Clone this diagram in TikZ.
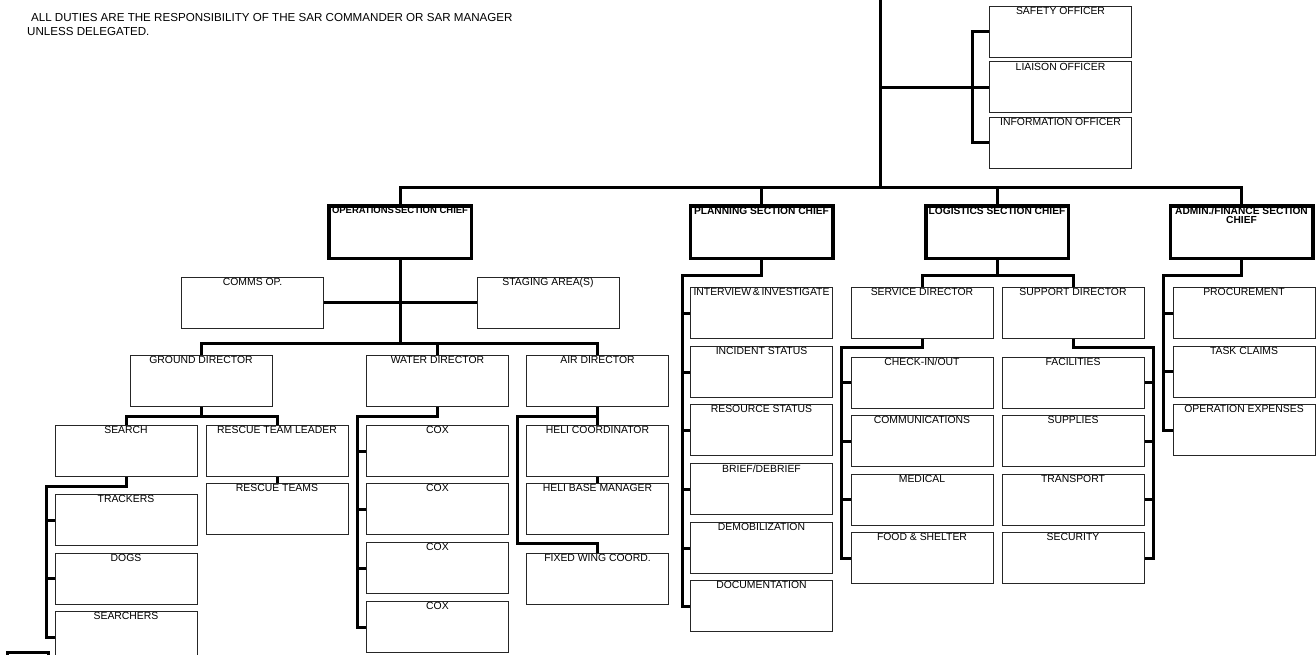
\documentclass[tikz,border=0pt]{standalone}
\usepackage{fontspec}
\setmainfont{Liberation Sans}
\usetikzlibrary{calc}

\tikzset{
  lbl/.style={anchor=north, inner sep=1.5pt, align=center,
    font=\fontsize{10.4}{9}\selectfont},
  chieflbl/.style={anchor=north, inner sep=0.5pt, align=center,
    font=\fontsize{10.2}{9}\selectfont\bfseries},
  orgbox/.style={draw=black!85, line width=1pt, minimum width=142pt,
    minimum height=51pt, inner sep=0pt, label={[lbl]north:#1}},
  chiefbox/.style={draw=black, line width=3.5pt, minimum width=142.5pt,
    minimum height=52.5pt, inner sep=0pt, label={[chieflbl, yshift=-2.5pt]north:#1}},
  link/.style={draw=black, line width=3pt, line join=miter},
}

\begin{document}
\begin{tikzpicture}[x=1pt, y=-1pt]
\useasboundingbox (0,0) rectangle (1316,655);

% note at the upper left
\node[anchor=north west, inner sep=0pt, align=left,
      font=\fontsize{11.6}{14}\selectfont] (note) at (27,13)
  {\hspace{3.9pt}ALL DUTIES ARE THE RESPONSIBILITY OF THE SAR COMMANDER OR SAR MANAGER\\
   UNLESS DELEGATED.};

% command staff
\node[orgbox={SAFETY OFFICER}]      (safety)  at (1060.5,32) {};
\node[orgbox={LIAISON OFFICER}]     (liaison) at (1060.5,87.5) {};
\node[orgbox={INFORMATION OFFICER}] (info)    at (1060.5,143) {};

% section chiefs
\node[chiefbox={\resizebox{136pt}{!}{OPERATIONS\hspace{1pt}SECTION CHIEF}}] (ops) at (400,232) {};
\node[chiefbox={PLANNING SECTION CHIEF}]  (plan)  at (761.5,232) {};
\node[chiefbox={LOGISTICS SECTION CHIEF}] (logi)  at (997,232) {};
\node[chiefbox={ADMIN./FINANCE SECTION\\CHIEF}] (admin) at (1241.5,232) {};

% operations
\node[orgbox={COMMS OP.}]        (comms)   at (252.5,302.5) {};
\node[orgbox={STAGING AREA(S)}]  (staging) at (548,302.5) {};
\node[orgbox={GROUND DIRECTOR}]  (ground)  at (201,381) {};
\node[orgbox={WATER DIRECTOR}]   (water)   at (437.5,381) {};
\node[orgbox={AIR DIRECTOR}]     (air)     at (597.5,381) {};

\node[orgbox={SEARCH}]              (search)  at (126,451) {};
\node[orgbox={RESCUE TEAM LEADER}]  (rtl)     at (277,451) {};
\node[orgbox={RESCUE TEAMS}]        (rteams)  at (277,509) {};
\node[orgbox={TRACKERS}]            (trackers) at (126,520) {};
\node[orgbox={DOGS}]                (dogs)    at (126,578.5) {};
\node[orgbox={SEARCHERS}]           (searchers) at (126,637) {};

\node[orgbox={COX}] (cox1) at (437.5,451) {};
\node[orgbox={COX}] (cox2) at (437.5,509) {};
\node[orgbox={COX}] (cox3) at (437.5,568) {};
\node[orgbox={COX}] (cox4) at (437.5,627) {};

\node[orgbox={HELI COORDINATOR}]    (heli)     at (597.5,451) {};
\node[orgbox={HELI BASE MANAGER}]   (helibase) at (597.5,509) {};
\node[orgbox={FIXED WING COORD.}]   (fixed)    at (597.5,579) {};

% planning
\node[orgbox={INTERVIEW\,\&\,INVESTIGATE}] (intv)  at (761.5,313) {};
\node[orgbox={INCIDENT STATUS}]   (incid) at (761.5,372) {};
\node[orgbox={RESOURCE STATUS}]   (resst) at (761.5,430) {};
\node[orgbox={BRIEF/DEBRIEF}]     (brief) at (761.5,489) {};
\node[orgbox={DEMOBILIZATION}]    (demob) at (761.5,548) {};
\node[orgbox={DOCUMENTATION}]     (docu)  at (761.5,606) {};

% logistics
\node[orgbox={SERVICE DIRECTOR}]  (service) at (922,313) {};
\node[orgbox={SUPPORT DIRECTOR}]  (support) at (1073,313) {};
\node[orgbox={CHECK-IN/OUT}]      (checkin) at (922,382.5) {};
\node[orgbox={COMMUNICATIONS}]    (commun)  at (922,441) {};
\node[orgbox={MEDICAL}]           (medical) at (922,499.5) {};
\node[orgbox={FOOD \& SHELTER}]   (food)    at (922,558) {};
\node[orgbox={FACILITIES}]        (facil)   at (1073,382.5) {};
\node[orgbox={SUPPLIES}]          (suppl)   at (1073,441) {};
\node[orgbox={TRANSPORT}]         (transp)  at (1073,499.5) {};
\node[orgbox={SECURITY}]          (secur)   at (1073,558) {};

% admin / finance
\node[orgbox={PROCUREMENT}]         (procure) at (1244,313) {};
\node[orgbox={TASK CLAIMS}]         (claims)  at (1244,371.5) {};
\node[orgbox={OPERATION EXPENSES}]  (opexp)   at (1244,430) {};

% ---- connectors ----
\coordinate (top) at (880,0);
\coordinate (bar) at (880,188);
\draw[link] (top) -- (bar);
\draw[link] (top |- liaison.west) -- (liaison.west);
\draw[link] (safety.west) -- ++(-17,0) |- (info.west);

\draw[link] (ops.north) |- (bar) -| (admin.north);
\draw[link] (plan.north) -- (plan.north |- bar);
\draw[link] (logi.north) -- (logi.north |- bar);

% operations branch
\draw[link] (ops.south) -- ++(0,83) coordinate (obar);
\draw[link] (comms.east) -- (staging.west);
\draw[link] (ground.north) |- (obar) -| (air.north);
\draw[link] (water.north) -- (water.north |- obar);

\draw[link] (ground.south) -- ++(0,9.5) coordinate (gbar);
\draw[link] (search.north) |- (gbar) -| (rtl.north);
\draw[link] (rtl.south) -- (rteams.north);
\draw[link] (search.south) -- ++(0,9) -| ([xshift=-8pt]searchers.west) -- (searchers.west);
\draw[link] (trackers.west) -- ++(-8,0);
\draw[link] (dogs.west) -- ++(-8,0);

\draw[link] (water.south) -- ++(0,9.5) -| ([xshift=-9pt]cox4.west) -- (cox4.west);
\foreach \c in {cox1,cox2,cox3} \draw[link] (\c.west) -- ++(-9,0);

\draw[link] (air.south) -- (heli.north);
\draw[link] (heli.south) -- (helibase.north);
\draw[link] (air.south) -- ++(0,9.5) -| ($(heli.west |- fixed.north)+(-9,-10)$) -| (fixed.north);

% planning branch
\draw[link] (plan.south) -- ++(0,15) -| ([xshift=-8pt]docu.west) -- (docu.west);
\foreach \c in {intv,incid,resst,brief,demob} \draw[link] (\c.west) -- ++(-8,0);

% logistics branch
\draw[link] (logi.south) -- ++(0,15) coordinate (lbar);
\draw[link] (service.north) |- (lbar) -| (support.north);
\draw[link] (service.south) -- ++(0,8) -| ([xshift=-9pt]food.west) -- (food.west);
\foreach \c in {checkin,commun,medical} \draw[link] (\c.west) -- ++(-9,0);
\draw[link] (support.south) -- ++(0,8) -| ([xshift=9pt]secur.east) -- (secur.east);
\foreach \c in {facil,suppl,transp} \draw[link] (\c.east) -- ++(9,0);

% admin / finance branch
\draw[link] (admin.south) -- ++(0,15) -| ([xshift=-9pt]opexp.west) -- (opexp.west);
\foreach \c in {procure,claims} \draw[link] (\c.west) -- ++(-9,0);

% edge of a further box at the lower left
\draw[line width=3pt] (7,660) -- (7,652) -- (48,652) -- (48,660);
\end{tikzpicture}
\end{document}
